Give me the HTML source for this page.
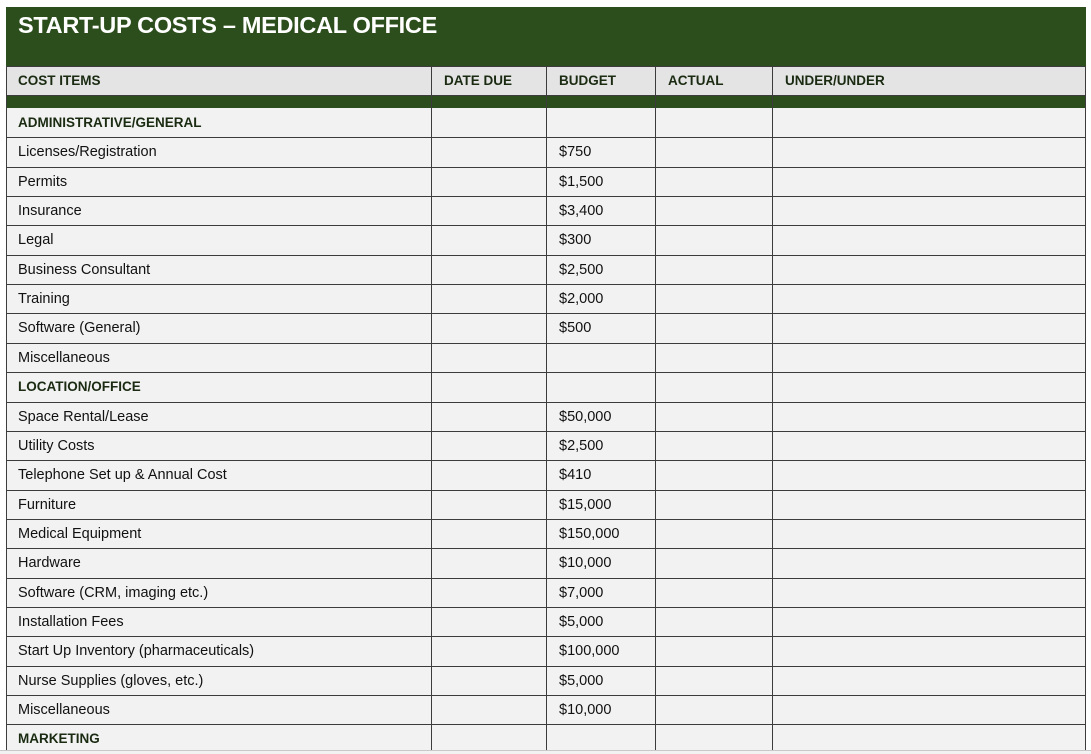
<!DOCTYPE html>
<html><head><style>
body{margin:0;width:1091px;height:754px;background:#fff;position:relative;overflow:hidden;font-family:"Liberation Sans",Arial,sans-serif;}
.a{position:absolute}
.t{position:absolute;font-size:14.5px;color:#111;white-space:nowrap}
.b{font-weight:bold;color:#1a2b12;font-size:13.5px}
.h{position:absolute;height:1px;background:#3c3c3c;left:6px;width:1080px}
.v{position:absolute;width:1px;background:#3c3c3c;top:66px;height:684px}
</style></head><body>
<div class="a" style="left:6px;top:7px;width:1080px;height:59px;background:#2c4e1c"></div>
<div class="a" style="left:18px;top:12px;font-size:23.5px;font-weight:bold;color:#fff;letter-spacing:-0.3px">START-UP COSTS – MEDICAL OFFICE</div>
<div class="a" style="left:6px;top:66px;width:1080px;height:29px;background:#e4e4e4"></div>
<div class="a" style="left:6px;top:95px;width:1080px;height:13px;background:#2c4e1c"></div>
<div class="a" style="left:6px;top:108px;width:1080px;height:642px;background:#f2f2f2"></div>
<div class="a" style="left:0;top:750px;width:1091px;height:1px;background:#c8c8c8"></div>
<div class="a" style="left:0;top:751px;width:1091px;height:3px;background:#f2f2f2"></div>
<div class="v" style="left:6px"></div>
<div class="v" style="left:431px"></div>
<div class="v" style="left:546px"></div>
<div class="v" style="left:655px"></div>
<div class="v" style="left:772px"></div>
<div class="v" style="left:1085px"></div>
<div class="h" style="top:66px"></div>
<div class="h" style="top:95px"></div>
<div class="t b" style="left:18px;top:73px">COST ITEMS</div>
<div class="t b" style="left:444px;top:73px">DATE DUE</div>
<div class="t b" style="left:559px;top:73px">BUDGET</div>
<div class="t b" style="left:668px;top:73px">ACTUAL</div>
<div class="t b" style="left:785px;top:73px">UNDER/UNDER</div>
<div id="rows"></div>
<script>
var rows=[["ADMINISTRATIVE/GENERAL","",1],["Licenses/Registration","$750"],["Permits","$1,500"],["Insurance","$3,400"],["Legal","$300"],["Business Consultant","$2,500"],["Training","$2,000"],["Software (General)","$500"],["Miscellaneous",""],["LOCATION/OFFICE","",1],["Space Rental/Lease","$50,000"],["Utility Costs","$2,500"],["Telephone Set up &amp; Annual Cost","$410"],["Furniture","$15,000"],["Medical Equipment","$150,000"],["Hardware","$10,000"],["Software (CRM, imaging etc.)","$7,000"],["Installation Fees","$5,000"],["Start Up Inventory (pharmaceuticals)","$100,000"],["Nurse Supplies (gloves, etc.)","$5,000"],["Miscellaneous","$10,000"],["MARKETING","",1]];
var h="",y=108,s=29.35;
for(var i=0;i<rows.length;i++){var ty=Math.round(y+i*s);var r=rows[i];
if(i>0)h+='<div class="h" style="top:'+ty+'px"></div>';
var c=r[2]?'t b':'t';
h+='<div class="'+c+'" style="left:18px;top:'+(ty+7)+'px">'+r[0]+'</div>';
if(r[1])h+='<div class="t" style="left:559px;top:'+(ty+7)+'px">'+r[1]+'</div>';}
document.getElementById("rows").innerHTML=h;
</script>
</body></html>
